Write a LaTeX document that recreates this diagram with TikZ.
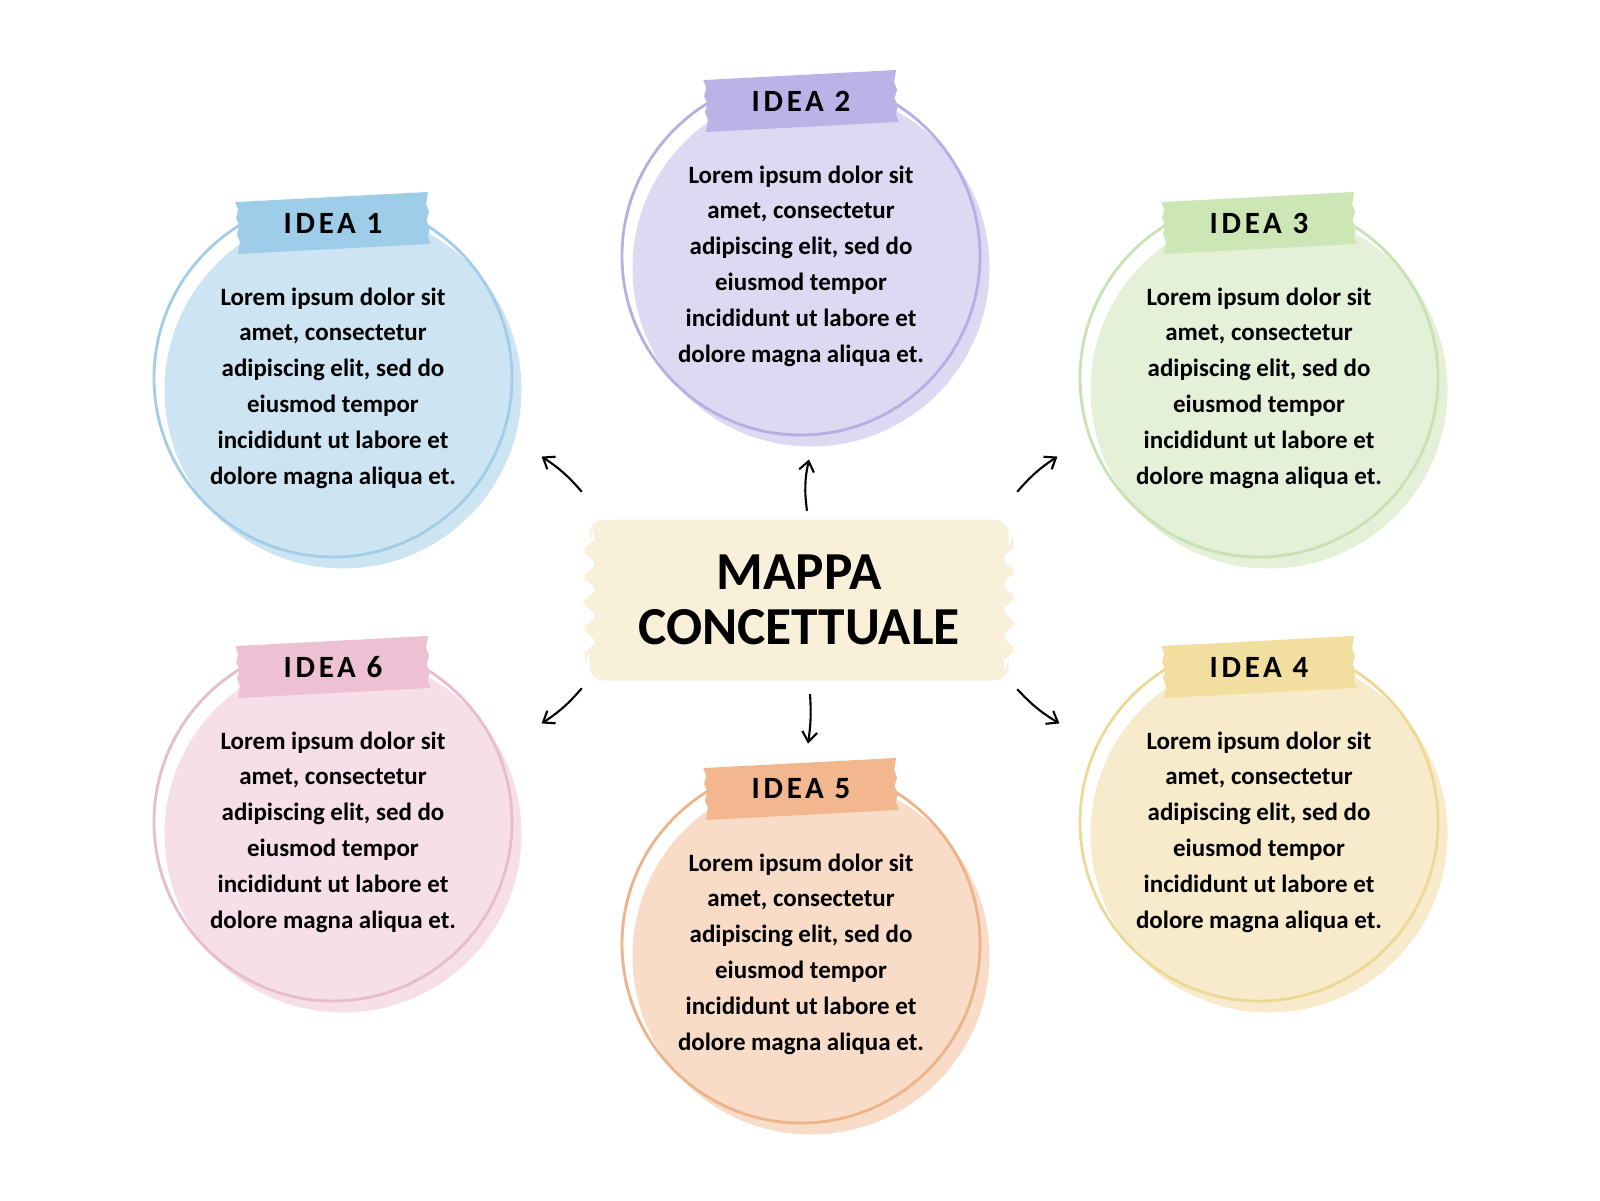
\documentclass[tikz,border=0pt]{standalone}
\usepackage{fontspec}
\setmainfont{Carlito}
\usetikzlibrary{arrows.meta,decorations.pathmorphing,positioning}

\definecolor{cream}{HTML}{F8F0D9}
\definecolor{bluefill}{HTML}{CDE5F3}
\definecolor{bluering}{HTML}{A3CDE6}
\definecolor{bluetape}{HTML}{9DCDE8}
\definecolor{purplefill}{HTML}{DCD9F2}
\definecolor{purplering}{HTML}{B7AEE3}
\definecolor{purpletape}{HTML}{BAB3E8}
\definecolor{greenfill}{HTML}{E4F0D8}
\definecolor{greenring}{HTML}{C9E2B3}
\definecolor{greentape}{HTML}{CDE6B5}
\definecolor{yellowfill}{HTML}{F7EBCC}
\definecolor{yellowring}{HTML}{EDD898}
\definecolor{yellowtape}{HTML}{F2DE9E}
\definecolor{orangefill}{HTML}{F8DCC7}
\definecolor{orangering}{HTML}{EDB48B}
\definecolor{orangetape}{HTML}{F2B78E}
\definecolor{pinkfill}{HTML}{F6DFE9}
\definecolor{pinkring}{HTML}{E7BCCC}
\definecolor{pinktape}{HTML}{EDC0D3}

% washi tape strip: centre, colour
\newcommand{\washi}[2]{%
  \fill[#2,shift={(#1)},rotate=3] (-0.965,-0.26) -- (0.965,-0.26) -- (0.94,-0.18) -- (0.965,-0.1)
    -- (0.935,-0.02) -- (0.965,0.06) -- (0.94,0.14) -- (0.965,0.26) -- (-0.965,0.26) -- (-0.94,0.18)
    -- (-0.965,0.1) -- (-0.935,0.02) -- (-0.965,-0.06) -- (-0.94,-0.14) -- cycle;}
\newcommand{\lorem}{Lorem ipsum dolor sit\\amet, consectetur\\adipiscing elit, sed do\\eiusmod tempor\\incididunt ut labore et\\dolore magna aliqua et.}

\begin{document}
\begin{tikzpicture}[
	idea/.style={circle,minimum size=3.58cm,inner sep=0pt,line width=0.8pt},
	body/.style={align=center,font=\bfseries\fontsize{7.1}{10.2}\selectfont},
	title/.style={font=\bfseries\fontsize{8.8}{10}\selectfont\addfontfeature{LetterSpace=12}},
	wavy/.style={decoration={snake,segment length=2.6mm,amplitude=0.45mm,pre length=1mm,post length=1mm}},
	link/.style={-{Straight Barb[length=1mm,width=1.5mm]},line width=0.6pt}
]
\fill[white] (0,0) rectangle (16,12);
\useasboundingbox (0,0) rectangle (16,12);
%\draw[help lines] (0,0) grid (16,12);

	% centre tape
	\fill[cream,rounded corners=1.5mm] (5.895,5.195) -- (10.085,5.195)
		decorate[wavy] {-- (10.085,6.805)} -- (5.895,6.805)
		decorate[wavy] {-- (5.895,5.195)} -- cycle;
	\node[minimum width=4.19cm,minimum height=1.61cm,align=center,font=\bfseries\fontsize{15.2}{15.6}\selectfont] (mid) at (7.99,6) {MAPPA\\CONCETTUALE};

	% idea 1
	\fill[bluefill] (3.43,8.10) circle [radius=1.785];
	\node[idea,draw=bluering] (idea1) at (3.33,8.22) {};
	\node[body] (txt1) at ([yshift=-0.1cm]idea1.center) {\lorem};
	\coordinate (tp1) at ([yshift=1.55cm]idea1.center);
	\washi{tp1}{bluetape}
	\node[title] (lab1) at (tp1) {IDEA 1};

	% idea 2
	\fill[purplefill] (8.11,9.32) circle [radius=1.785];
	\node[idea,draw=purplering] (idea2) at (8.01,9.44) {};
	\node[body] (txt2) at ([yshift=-0.1cm]idea2.center) {\lorem};
	\coordinate (tp2) at ([yshift=1.55cm]idea2.center);
	\washi{tp2}{purpletape}
	\node[title] (lab2) at (tp2) {IDEA 2};

	% idea 3
	\fill[greenfill] (12.69,8.10) circle [radius=1.785];
	\node[idea,draw=greenring] (idea3) at (12.59,8.22) {};
	\node[body] (txt3) at ([yshift=-0.1cm]idea3.center) {\lorem};
	\coordinate (tp3) at ([yshift=1.55cm]idea3.center);
	\washi{tp3}{greentape}
	\node[title] (lab3) at (tp3) {IDEA 3};

	% idea 4
	\fill[yellowfill] (12.69,3.66) circle [radius=1.785];
	\node[idea,draw=yellowring] (idea4) at (12.59,3.78) {};
	\node[body] (txt4) at ([yshift=-0.1cm]idea4.center) {\lorem};
	\coordinate (tp4) at ([yshift=1.55cm]idea4.center);
	\washi{tp4}{yellowtape}
	\node[title] (lab4) at (tp4) {IDEA 4};

	% idea 5
	\fill[orangefill] (8.11,2.44) circle [radius=1.785];
	\node[idea,draw=orangering] (idea5) at (8.01,2.56) {};
	\node[body] (txt5) at ([yshift=-0.1cm]idea5.center) {\lorem};
	\coordinate (tp5) at ([yshift=1.55cm]idea5.center);
	\washi{tp5}{orangetape}
	\node[title] (lab5) at (tp5) {IDEA 5};

	% idea 6
	\fill[pinkfill] (3.43,3.66) circle [radius=1.785];
	\node[idea,draw=pinkring] (idea6) at (3.33,3.78) {};
	\node[body] (txt6) at ([yshift=-0.1cm]idea6.center) {\lorem};
	\coordinate (tp6) at ([yshift=1.55cm]idea6.center);
	\washi{tp6}{pinktape}
	\node[title] (lab6) at (tp6) {IDEA 6};

	% arrows
	\draw[link] ([shift={(-0.07,0.27)}]mid.north west) to[bend right=8] ([shift={(0.81,0.49)}]idea1.south east);
	\draw[link] ([shift={(0.08,0.08)}]mid.north) to[bend left=10] ([shift={(0.08,-0.23)}]idea2.south);
	\draw[link] ([shift={(0.08,0.27)}]mid.north east) to[bend left=8] ([shift={(-0.74,0.49)}]idea3.south west);
	\draw[link] ([shift={(0.08,-0.08)}]mid.south east) to[bend right=8] ([shift={(-0.72,-0.29)}]idea4.north west);
	\draw[link] ([shift={(0.11,-0.13)}]mid.south) to[bend left=6] ([shift={(0.07,0.2)}]idea5.north);
	\draw[link] ([shift={(-0.07,-0.07)}]mid.south west) to[bend left=8] ([shift={(0.81,-0.29)}]idea6.north east);
\end{tikzpicture}
\end{document}
